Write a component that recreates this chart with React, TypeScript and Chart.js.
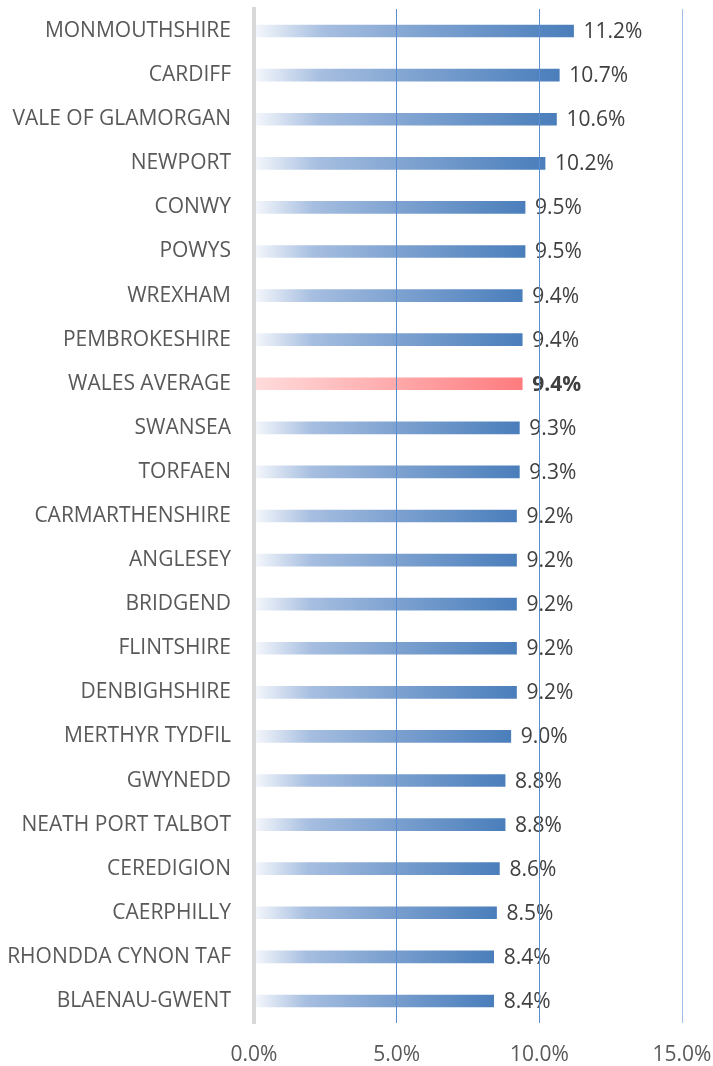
import { useEffect, useRef } from "react";
import { Chart, registerables } from "chart.js";

Chart.register(...registerables);

const categories: string[] = [
  "MONMOUTHSHIRE",
  "CARDIFF",
  "VALE OF GLAMORGAN",
  "NEWPORT",
  "CONWY",
  "POWYS",
  "WREXHAM",
  "PEMBROKESHIRE",
  "WALES AVERAGE",
  "SWANSEA",
  "TORFAEN",
  "CARMARTHENSHIRE",
  "ANGLESEY",
  "BRIDGEND",
  "FLINTSHIRE",
  "DENBIGHSHIRE",
  "MERTHYR TYDFIL",
  "GWYNEDD",
  "NEATH PORT TALBOT",
  "CEREDIGION",
  "CAERPHILLY",
  "RHONDDA CYNON TAF",
  "BLAENAU-GWENT",
];

const values: number[] = [
  11.2, 10.7, 10.6, 10.2, 9.5, 9.5, 9.4, 9.4, 9.4, 9.3, 9.3, 9.2, 9.2, 9.2,
  9.2, 9.2, 9.0, 8.8, 8.8, 8.6, 8.5, 8.4, 8.4,
];

const highlight = "WALES AVERAGE";
const xMin = 0;
const xMax = 15;
const xStep = 5;

const FONT = '"Open Sans", sans-serif';
const FSIZE = 21;

const labelPlugin = {
  id: "valueLabels",
  afterDatasetsDraw(chart: any) {
    const meta = chart.getDatasetMeta(0);
    const ctx = chart.ctx;
    ctx.save();
    meta.data.forEach((bar: any, i: number) => {
      const bold = categories[i] === highlight;
      ctx.font = `${bold ? "bold " : ""}${FSIZE}px ${FONT}`;
      ctx.fillStyle = "#404040";
      ctx.textAlign = "left";
      ctx.textBaseline = "middle";
      ctx.fillText(values[i].toFixed(1) + "%", bar.x + 10, bar.y + 1);
    });
    ctx.restore();
  },
};

export default function App() {
  const ref = useRef<HTMLCanvasElement | null>(null);

  useEffect(() => {
    if (!ref.current) return;
    const chart = new Chart(ref.current, {
      type: "bar",
      data: {
        labels: categories,
        datasets: [
          {
            data: values,
            barThickness: 12,
            borderWidth: 0,
            backgroundColor: (c: any) => {
              const ch = c.chart;
              if (!ch.chartArea || c.raw == null) return "#4f81bd";
              const x0 = ch.scales.x.getPixelForValue(0);
              const x1 = ch.scales.x.getPixelForValue(c.raw);
              const g = ch.ctx.createLinearGradient(x0, 0, x1, 0);
              if (categories[c.dataIndex] === highlight) {
                g.addColorStop(0, "#ffdcdc");
                g.addColorStop(1, "#ff7b7e");
              } else {
                g.addColorStop(0, "#f6f8fc");
                g.addColorStop(0.22, "#a6bee0");
                g.addColorStop(0.5, "#82a5d2");
                g.addColorStop(1, "#4a7ebb");
              }
              return g;
            },
          },
        ],
      },
      options: {
        indexAxis: "y",
        animation: false,
        responsive: true,
        maintainAspectRatio: false,
        layout: { padding: { top: 9, right: 31, left: 0, bottom: 0 } },
        plugins: {
          legend: { display: false },
          tooltip: { enabled: false },
        },
        scales: {
          x: {
            min: xMin,
            max: xMax,
            afterFit: (s: any) => {
              s.height = 43;
              s.paddingLeft = 0;
              s.paddingRight = 0;
            },
            ticks: {
              stepSize: xStep,
              padding: 19,
              color: "#595959",
              font: { family: FONT, size: FSIZE },
              callback: (v: any) => Number(v).toFixed(1) + "%",
            },
            grid: {
              z: 1,
              drawTicks: false,
              lineWidth: 1,
              color: (c: any) =>
                c.tick && c.tick.value === 0
                  ? "rgba(0,0,0,0)"
                  : c.tick && c.tick.value === 15
                  ? "#9fbfe6"
                  : "#5b8bd0",
            },
            border: { display: false },
          },
          y: {
            afterFit: (s: any) => {
              s.width = 254;
              s.paddingTop = 0;
              s.paddingBottom = 0;
            },
            ticks: {
              padding: 23,
              color: "#595959",
              font: { family: FONT, size: FSIZE },
            },
            grid: { display: false, drawTicks: false },
            border: { display: true, color: "#d9d9d9", width: 4, z: 1 },
          },
        },
      },
      plugins: [labelPlugin],
    } as any);
    return () => chart.destroy();
  }, []);

  return (
    <div
      style={{
        position: "absolute",
        left: 0,
        top: 0,
        width: 713,
        height: 1066,
        background: "#fff",
      }}
    >
      <canvas ref={ref} />
    </div>
  );
}
